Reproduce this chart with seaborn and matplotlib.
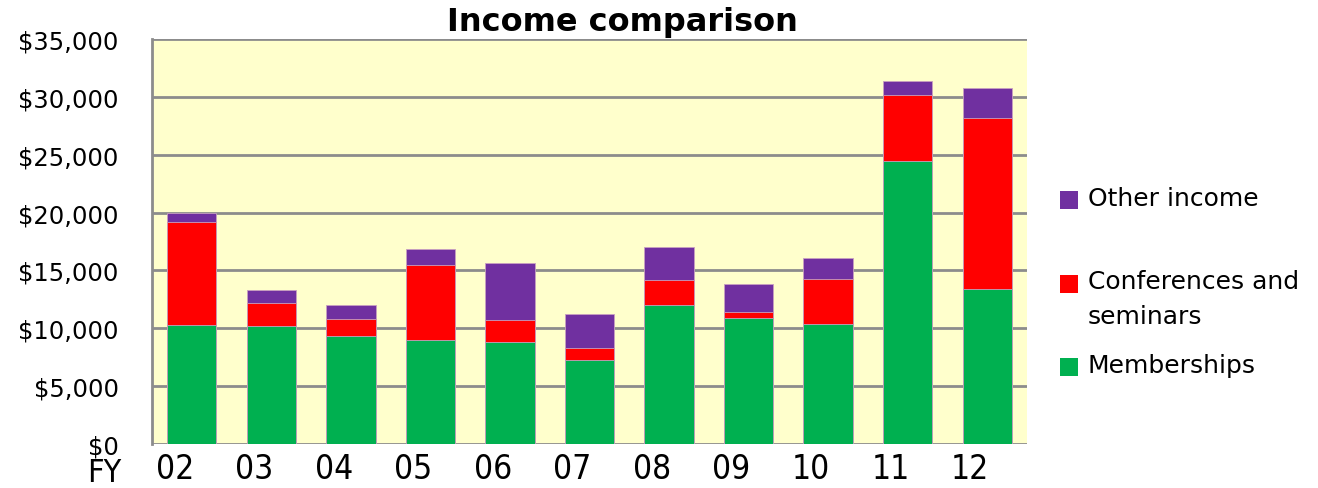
import numpy as np
import pandas as pd
import matplotlib
matplotlib.use('Agg')
import matplotlib.pyplot as plt
import matplotlib.transforms as mtransforms
import seaborn as sns
from matplotlib.patches import Rectangle
from matplotlib.ticker import FuncFormatter

# values (dollars)
years = ['02', '03', '04', '05', '06', '07', '08', '09', '10', '11', '12']
memberships = [10300, 10200, 9300, 8950, 8800, 7250, 12050, 10900, 10400, 24500, 13400]
conferences = [8900, 1950, 1500, 6550, 1950, 1050, 2100, 500, 3900, 5650, 14750]
other = [800, 1200, 1200, 1350, 4900, 2950, 2850, 2450, 1800, 1250, 2600]

labels = ['Other income', 'Conferences and\nseminars', 'Memberships']
colors = ['#7030A0', '#FF0000', '#00B050']

df = pd.DataFrame({'FY': years, 'Memberships': memberships,
                   'Conferences': conferences, 'Other': other})
df['mem_conf'] = df['Memberships'] + df['Conferences']
df['total'] = df['mem_conf'] + df['Other']

sns.set_style('white')
plt.rcParams['font.family'] = ['DejaVu Sans']
plt.rcParams['text.color'] = 'black'

fig = plt.figure(figsize=(13.18, 4.89), dpi=100)
ax = fig.add_axes([152 / 1318, 44 / 489, 875 / 1318, 405 / 489])
ax.set_facecolor('#FFFFCC')

# stacked bars: draw cumulative totals, back to front
for col, c in zip(['total', 'mem_conf', 'Memberships'], colors):
    sns.barplot(data=df, x='FY', y=col, color=c, width=0.62, ax=ax,
                saturation=1, edgecolor='#c8a0c0', linewidth=0.6, zorder=3)

ax.set_ylim(0, 35000)
ax.set_xlim(-0.5, 10.5)
ax.set_yticks(np.arange(0, 35001, 5000))
ax.yaxis.set_major_formatter(FuncFormatter(lambda v, p: '${:,.0f}'.format(v)))
ax.grid(axis='y', color='#8c8c8c', linewidth=2, zorder=1)
ax.set_axisbelow(True)
ax.set_xlabel('')
ax.set_ylabel('')
for s in ['top', 'right', 'bottom']:
    ax.spines[s].set_visible(False)
ax.spines['left'].set_color('#8c8c8c')
ax.spines['left'].set_linewidth(2)
ax.tick_params(axis='y', length=9, width=2, color='#8c8c8c', labelsize=17.5, pad=15,
               labelcolor='black')
ax.tick_params(axis='x', length=0, labelsize=24, pad=6, labelcolor='black')

# x labels sit a little left of the bar centres
shift = mtransforms.ScaledTranslation(-17 / 100, 0, fig.dpi_scale_trans)
for t in ax.get_xticklabels():
    t.set_fontstretch('condensed')
    t.set_transform(t.get_transform() + shift)

fig.text(104 / 1318, 1 - 474 / 489, 'FY', fontsize=23, ha='center', va='center',
         fontstretch='condensed')
fig.text(622 / 1318, 1 - 22 / 489, 'Income comparison', fontsize=23,
         ha='center', va='center', fontweight='bold')

# legend drawn by hand to match spacing
leg_y = [201, 285, 368]
for lab, c, yy in zip(labels, colors, leg_y):
    fig.add_artist(Rectangle((1060 / 1318, 1 - (yy + 9) / 489), 18 / 1318, 18 / 489,
                             facecolor=c, edgecolor='none', transform=fig.transFigure))
    if '\n' in lab:
        fig.text(1088 / 1318, 1 - (yy - 15) / 489, lab, fontsize=18, ha='left', va='top',
                 linespacing=1.6)
    else:
        fig.text(1088 / 1318, 1 - (yy - 2) / 489, lab, fontsize=18, ha='left', va='center')

fig.savefig('out.png', dpi=100)
